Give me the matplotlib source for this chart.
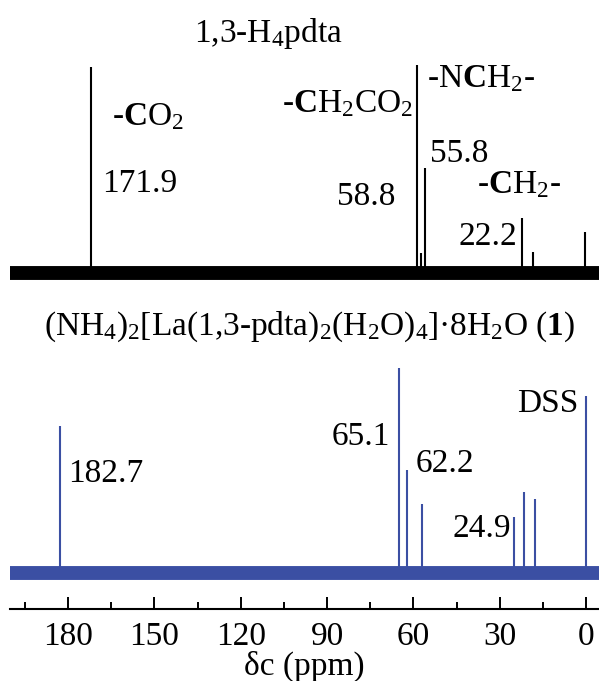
import matplotlib
matplotlib.use('Agg')
import matplotlib.pyplot as plt
from matplotlib.ticker import MultipleLocator

plt.rcParams['font.family'] = ['Liberation Serif', 'DejaVu Serif']
plt.rcParams['mathtext.fontset'] = 'custom'
plt.rcParams['mathtext.rm'] = 'Liberation Serif'
plt.rcParams['mathtext.bf'] = 'Liberation Serif:bold'
plt.rcParams['mathtext.it'] = 'Liberation Serif:italic'

# 13C NMR peaks, ppm and height (arbitrary units)
ligand_ppm = [171.9, 58.8, 57.5, 55.8, 22.2, 18.3, 0.5]
ligand_int = [206, 208, 20, 105, 55, 21, 41]

complex_ppm = [182.7, 65.1, 62.2, 57.0, 24.9, 21.5, 17.7, 0.0]
complex_int = [147, 205, 103, 69, 56, 81, 74, 177]

blue = '#3b4fa3'
fs = 24

fig = plt.figure(figsize=(5.99, 6.81), dpi=100)
W, H = 599.0, 681.0

# top spectrum (free ligand)
ax1 = fig.add_axes([10 / W, 381 / H, 589 / W, 300 / H])
ax1.set_xlim(200.2, -4.5)
ax1.set_ylim(-27, 273)
ax1.axis('off')
ax1.axhline(0, color='k', lw=10)
ax1.vlines(ligand_ppm, 0, ligand_int, color='k', lw=1.5)

ax1.text(164.8, 148, r'-$\mathbf{C}$O$_2$', fontsize=fs, ha='left', va='baseline')
ax1.text(168.2, 81, '171.9', fontsize=fs, ha='left', va='baseline')
ax1.text(60.1, 161, r'-$\mathbf{C}$H$_2$CO$_2$', fontsize=fs, ha='right', va='baseline')
ax1.text(66.4, 68, '58.8', fontsize=fs, ha='right', va='baseline')
ax1.text(55.3, 186, r'-N$\mathbf{C}$H$_2$-', fontsize=fs, ha='left', va='baseline')
ax1.text(54.2, 111, '55.8', fontsize=fs, ha='left', va='baseline')
ax1.text(37.9, 80, r'-$\mathbf{C}$H$_2$-', fontsize=fs, ha='left', va='baseline')
ax1.text(24.0, 28, '22.2', fontsize=fs, ha='right', va='baseline')

# bottom spectrum (La complex)
ax2 = fig.add_axes([10 / W, 72 / H, 589 / W, 269 / H])
ax2.set_xlim(200.2, -4.5)
ax2.set_ylim(-36, 233)
for s in ['top', 'left', 'right']:
    ax2.spines[s].set_visible(False)
ax2.spines['bottom'].set_linewidth(1.5)
ax2.set_yticks([])
ax2.axhline(0, color=blue, lw=10)
ax2.vlines(complex_ppm, 0, complex_int, color=blue, lw=1.5)

ax2.xaxis.set_major_locator(MultipleLocator(30))
ax2.xaxis.set_minor_locator(MultipleLocator(15))
ax2.tick_params(axis='x', which='major', direction='in', length=9, width=1.4,
                labelsize=fs, pad=9)
ax2.tick_params(axis='x', which='minor', direction='in', length=5, width=1.4)
ax2.set_xlabel('δc (ppm)', fontsize=fs, labelpad=-1)

ax2.text(180.0, 91, '182.7', fontsize=fs, ha='left', va='baseline')
ax2.text(68.1, 128, '65.1', fontsize=fs, ha='right', va='baseline')
ax2.text(59.4, 101, '62.2', fontsize=fs, ha='left', va='baseline')
ax2.text(26.1, 36, '24.9', fontsize=fs, ha='right', va='baseline')
ax2.text(2.8, 161, 'DSS', fontsize=fs, ha='right', va='baseline')

fig.text(268 / W, 1 - 42 / H, r'1,3-H$_4$pdta', fontsize=fs, ha='center', va='baseline')
fig.text(310 / W, 1 - 335 / H,
         r'(NH$_4$)$_2$[La(1,3-pdta)$_2$(H$_2$O)$_4$]·8H$_2$O ($\mathbf{1}$)',
         fontsize=fs, ha='center', va='baseline')

fig.savefig('out.png', dpi=100)
